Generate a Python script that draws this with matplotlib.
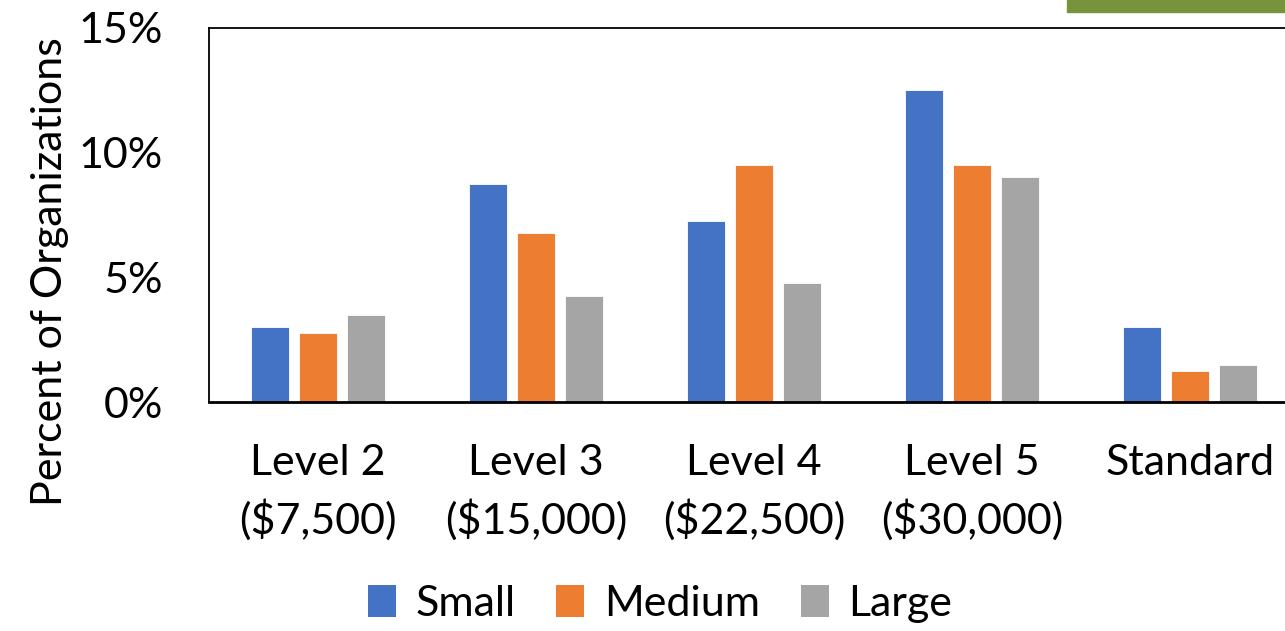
import numpy as np
import matplotlib
matplotlib.use("Agg")
import matplotlib.pyplot as plt
from matplotlib.patches import Rectangle, Patch

plt.rcParams['font.family'] = ['Lato', 'DejaVu Sans']

groups = ["Level 2\n($7,500)", "Level 3\n($15,000)", "Level 4\n($22,500)",
          "Level 5\n($30,000)", "Standard"]
sizes = ["Small", "Medium", "Large"]
small = [3.0, 8.75, 7.25, 12.5, 3.0]
medium = [2.75, 6.75, 9.5, 9.5, 1.25]
large = [3.5, 4.25, 4.75, 9.0, 1.5]
colors = ["#4472C4", "#ED7D31", "#A5A5A5"]
yticks = [0, 5, 10, 15]

W, H = 1285, 631
fs = 31
fig = plt.figure(figsize=(W / 100, H / 100), dpi=100)
ax = fig.add_axes([209 / W, (H - 402) / H, (1299 - 209) / W, 374.5 / H])

x = np.arange(len(groups))
bw = 0.174
step = 0.22
for i, (vals, c) in enumerate(zip([small, medium, large], colors)):
    ax.bar(x + (i - 1) * step, vals, width=bw, color=c,
           edgecolor="white", linewidth=0.6, zorder=2)

ax.set_xlim(-0.5, len(groups) - 0.5)
ax.set_ylim(0, 15)
ax.set_yticks(yticks)
ax.set_yticklabels(["%d%%" % t for t in yticks])
ax.set_xticks(x)
ax.set_xticklabels(groups, linespacing=1.5)
ax.tick_params(axis="y", length=0, pad=33, labelsize=fs)
ax.tick_params(axis="x", length=0, pad=30, labelsize=fs)

for s in ["left", "top"]:
    ax.spines[s].set_linewidth(1.3)
ax.spines["bottom"].set_linewidth(2.0)
ax.spines["right"].set_visible(False)

fig.text(50 / W, 1 - 272 / H, "Percent of Organizations", rotation=90,
         ha="center", va="center", fontsize=fs)

handles = [Patch(facecolor=c, label=s) for s, c in zip(sizes, colors)]
fig.legend(handles=handles, loc="center", bbox_to_anchor=(660 / W, 1 - 604 / H),
           ncol=3, frameon=False, fontsize=fs, handlelength=0.65,
           handleheight=0.75, handletextpad=0.45, columnspacing=0.95)

# green strip in the top-right corner
fig.patches.append(Rectangle((1067 / W, 1 - 12 / H), 1 - 1067 / W, 12 / H,
                             transform=fig.transFigure, color="#77933C"))

fig.savefig("out.png", dpi=100)
